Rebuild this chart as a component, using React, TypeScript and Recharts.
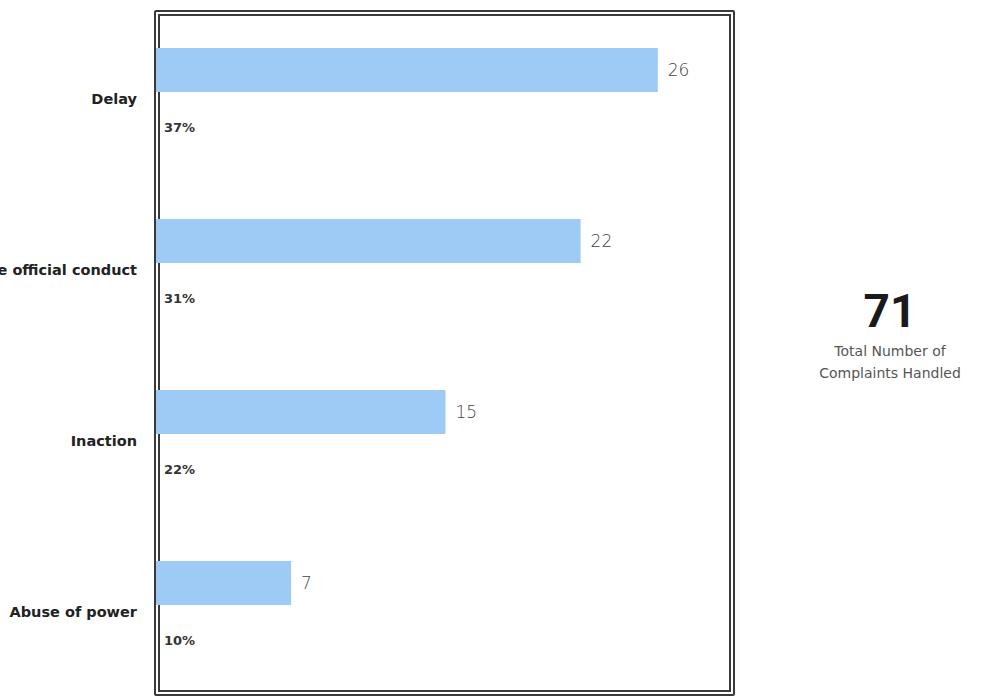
import { BarChart, Bar, XAxis, YAxis, LabelList } from "recharts";

const categories = ["Delay", "Inappropriate official conduct", "Inaction", "Abuse of power"];
const counts = [26, 22, 15, 7];
const shares = [37, 31, 22, 10];
const totalHandled = 71;

const rows = categories.map((name, i) => ({ name, count: counts[i], share: shares[i] }));

const FONT = "'DejaVu Sans', sans-serif";

// plain single-line tick, Recharts would otherwise wrap long names
function CategoryTick({ x, y, payload }: any) {
  return (
    <text
      x={x}
      y={y}
      dy={5}
      textAnchor="end"
      fontSize={14.5}
      fontWeight={700}
      fill="#222"
      fontFamily={FONT}
    >
      {payload.value}
    </text>
  );
}

export default function App() {
  return (
    <div style={{ position: "absolute", left: 0, top: 0, width: 984, height: 697, background: "#fff", overflow: "hidden" }}>
      {/* double frame behind the bars */}
      <div
        style={{
          position: "absolute",
          left: 154,
          top: 10,
          width: 581,
          height: 686,
          boxSizing: "border-box",
          border: "6px double #3a3a3a",
          borderRadius: 2,
        }}
      />
      <div style={{ position: "absolute", left: 0, top: 0 }}>
        <BarChart
          width={984}
          height={697}
          data={rows}
          layout="vertical"
          margin={{ top: 13, right: 249, bottom: 0, left: 0 }}
          barSize={44}
          barGap={13}
        >
          <XAxis type="number" domain={[0, 30]} hide />
          <YAxis
            type="category"
            dataKey="name"
            width={156}
            axisLine={false}
            tickLine={false}
            tickSize={0}
            tickMargin={19}
            tick={<CategoryTick />}
          />
          <Bar dataKey="count" fill="#9ecbf6" isAnimationActive={false}>
            <LabelList
              dataKey="count"
              position="right"
              offset={10}
              style={{ fontSize: 17, fill: "#444", fontFamily: FONT, fontWeight: 300 }}
            />
          </Bar>
          {/* invisible companion bar, only carries the share label below each bar */}
          <Bar dataKey={(d: any) => d.count} fill="transparent" isAnimationActive={false}>
            <LabelList
              dataKey="share"
              position="insideLeft"
              offset={8}
              formatter={(v: number) => `${v}%`}
              style={{ fontSize: 13, fill: "#333", fontWeight: 700, fontFamily: FONT }}
            />
          </Bar>
        </BarChart>
      </div>
      <div
        style={{
          position: "absolute",
          left: 790,
          top: 285,
          width: 200,
          textAlign: "center",
          fontFamily: FONT,
          color: "#555",
        }}
      >
        <div style={{ fontFamily: "Roboto, sans-serif", fontWeight: 700, fontSize: 46, color: "#1a1a1a", lineHeight: "52px" }}>
          {totalHandled}
        </div>
        <div style={{ fontSize: 14, lineHeight: "22px", marginTop: 3 }}>Total Number of</div>
        <div style={{ fontSize: 14, lineHeight: "22px" }}>Complaints Handled</div>
      </div>
    </div>
  );
}
